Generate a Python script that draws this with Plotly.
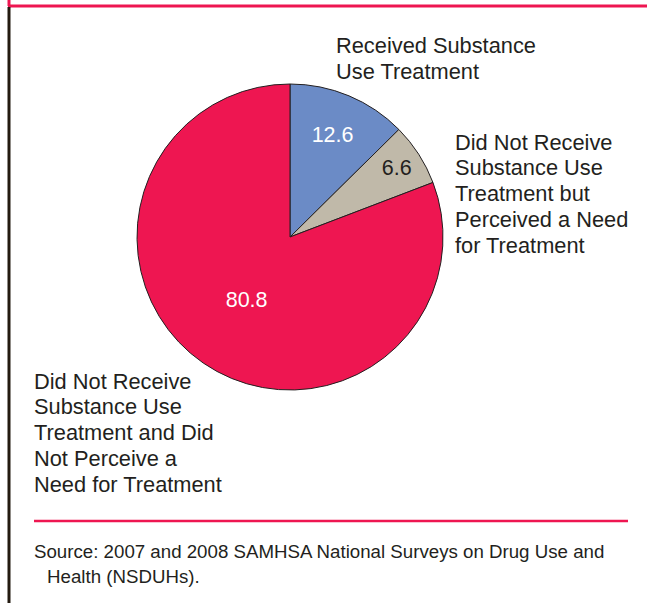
import plotly.graph_objects as go

W, H = 647, 603

labels = ["Received Substance Use Treatment",
          "Did Not Receive Substance Use Treatment but Perceived a Need for Treatment",
          "Did Not Receive Substance Use Treatment and Did Not Perceive a Need for Treatment"]
values = [12.6, 6.6, 80.8]
slice_colors = ["#6b8bc6", "#c0b9a9", "#ee1651"]
text_colors = ["#ffffff", "#231f20", "#ffffff"]

outer_label_lines = [
    ["Received Substance", "Use Treatment"],
    ["Did Not Receive", "Substance Use", "Treatment but", "Perceived a Need", "for Treatment"],
    ["Did Not Receive", "Substance Use", "Treatment and Did", "Not Perceive a", "Need for Treatment"],
]
source_lines = ["Source: 2007 and 2008 SAMHSA National Surveys on Drug Use and",
                "Health (NSDUHs)."]

def px(x):
    return x / W

def py(y):
    return 1 - y / H

FONT = "Liberation Sans, Arial, Helvetica, sans-serif"
DARK = "#231f20"
RED = "#ee1651"

fig = go.Figure(go.Pie(
    labels=labels,
    values=values,
    sort=False,
    direction="clockwise",
    rotation=0,
    marker=dict(colors=slice_colors, line=dict(color=DARK, width=1)),
    texttemplate="%{value}",
    textposition="inside",
    insidetextorientation="horizontal",
    textfont=dict(family=FONT, size=21.5, color=text_colors),
    domain=dict(x=[px(137), px(443)], y=[py(390), py(84)]),
    showlegend=False,
    hoverinfo="label+value",
))

# label block anchors: (left x, first line center y), line step
label_pos = [(334, 46), (453, 142), (32, 381)]
STEP = 25.8
annotations = []
for lines, (x0, y0) in zip(outer_label_lines, label_pos):
    for i, line in enumerate(lines):
        annotations.append(dict(text=line, x=px(x0), y=py(y0 + i * STEP),
                                xanchor="left", yanchor="middle",
                                xref="paper", yref="paper", showarrow=False, align="left",
                                font=dict(family=FONT, size=21.8, color=DARK)))

annotations.append(dict(text=source_lines[0], x=px(32), y=py(551), xanchor="left", yanchor="middle",
                        xref="paper", yref="paper", showarrow=False,
                        font=dict(family=FONT, size=18.7, color=DARK)))
annotations.append(dict(text=source_lines[1], x=px(45), y=py(576), xanchor="left", yanchor="middle",
                        xref="paper", yref="paper", showarrow=False,
                        font=dict(family=FONT, size=18.7, color=DARK)))

shapes = [
    dict(type="line", xref="paper", yref="paper", x0=px(8), x1=px(647), y0=py(6), y1=py(6),
         line=dict(color=RED, width=3)),
    dict(type="line", xref="paper", yref="paper", x0=px(9), x1=px(9), y0=py(7), y1=py(603),
         line=dict(color="#231a10", width=3)),
    dict(type="line", xref="paper", yref="paper", x0=px(9), x1=px(9), y0=py(0), y1=py(6),
         line=dict(color=RED, width=3)),
    dict(type="line", xref="paper", yref="paper", x0=px(34), x1=px(628), y0=py(521), y1=py(521),
         line=dict(color=RED, width=2.5)),
]

fig.update_layout(
    width=W, height=H,
    margin=dict(l=0, r=0, t=0, b=0),
    paper_bgcolor="white", plot_bgcolor="white",
    annotations=annotations, shapes=shapes,
    font=dict(family=FONT, color=DARK),
)

fig.write_html("out.html")
